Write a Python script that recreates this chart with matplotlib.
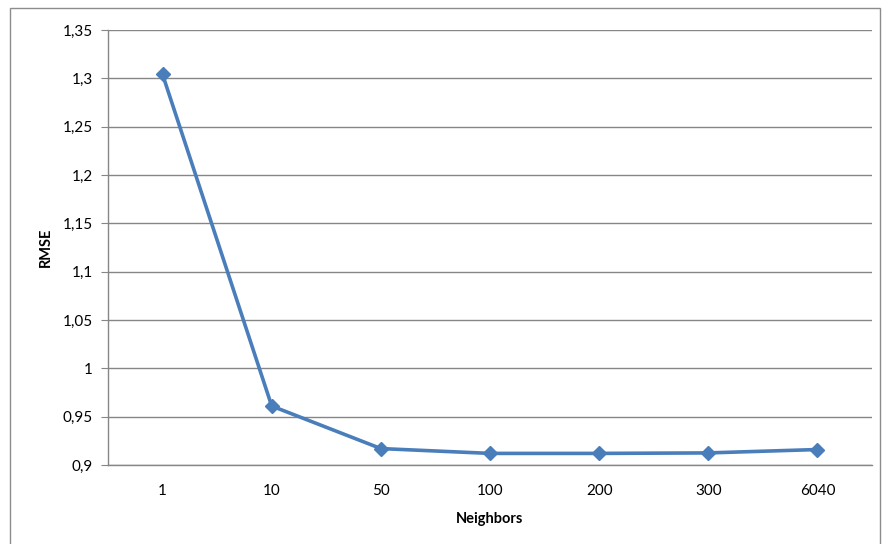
import matplotlib
matplotlib.use("Agg")
import matplotlib.pyplot as plt
from matplotlib.patches import Rectangle
from matplotlib.ticker import FuncFormatter, MultipleLocator

# ===== DATA =====
neighbors = ["1", "10", "50", "100", "200", "300", "6040"]
rmse = [1.304, 0.961, 0.917, 0.912, 0.912, 0.9125, 0.916]

plt.rcParams["font.family"] = ["Lato", "DejaVu Sans"]

fig = plt.figure(figsize = (8.84, 5.44), dpi = 100)
ax = fig.add_axes([108 / 884, 1 - 465 / 544, 764 / 884, 435 / 544])

# outer chart frame
fig.patches.append(Rectangle((10 / 884, -0.05), 870 / 884, 1 - 8 / 544 + 0.05,
                             transform = fig.transFigure, fill = False,
                             edgecolor = "#8c8c8c", linewidth = 1.0))

x = range(len(neighbors))
ax.plot(x, rmse, color = "#4A7EBB", linewidth = 2.6, marker = "D",
        markersize = 7, markerfacecolor = "#4A7EBB", markeredgecolor = "#4A7EBB")

ax.set_xlim(-0.5, len(neighbors) - 0.5)
ax.set_ylim(0.9, 1.35)
ax.set_xticks(list(x))
ax.set_xticklabels(neighbors)
ax.yaxis.set_major_locator(MultipleLocator(0.05))
ax.yaxis.set_major_formatter(FuncFormatter(lambda v, p: f"{v:.2f}".rstrip("0").rstrip(".").replace(".", ",")))

ax.grid(True, axis = "y", color = "#868686", linewidth = 1.0)
ax.set_axisbelow(True)
for side in ["top", "right"]:
    ax.spines[side].set_visible(False)
for side in ["left", "bottom"]:
    ax.spines[side].set_color("#868686")
    ax.spines[side].set_linewidth(1.0)

ax.tick_params(axis = "y", direction = "out", length = 5, color = "#868686",
               labelsize = 11, pad = 6)
ax.tick_params(axis = "x", length = 0, labelsize = 11, pad = 14)

ax.set_xlabel("Neighbors", fontsize = 10.5, fontweight = "bold", labelpad = 10)
ax.set_ylabel("RMSE", fontsize = 10.5, fontweight = "bold", labelpad = 7)

fig.savefig("out.png", dpi = 100)
